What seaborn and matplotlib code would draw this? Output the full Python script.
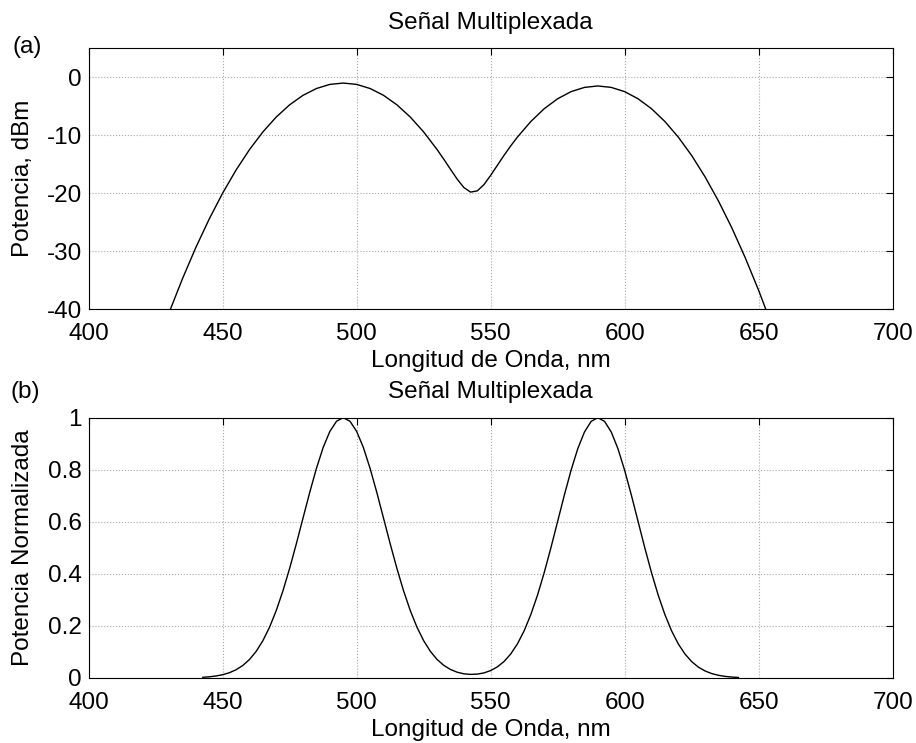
import numpy as np
import pandas as pd
import matplotlib
matplotlib.use("Agg")
import matplotlib.pyplot as plt
import seaborn as sns

# Wavelength (nm) and power (dBm)
wl_dbm = [425, 430, 435, 440, 445, 450, 455, 460, 465, 470, 475, 480, 485, 490,
          495, 500, 505, 510, 515, 520, 525, 530, 532.5, 535, 537.5, 540, 542.5,
          545, 547.5, 550, 552.5, 555, 557.5, 560, 565, 570, 575, 580, 585, 590,
          595, 600, 605, 610, 615, 620, 625, 630, 635, 640, 645, 650, 655, 660]
power_dbm = [-46.96, -40.63, -34.77, -29.37, -24.45, -19.99, -16.01, -12.49, -9.44,
             -6.86, -4.75, -3.11, -1.94, -1.23, -1.00, -1.23, -1.94, -3.11, -4.75,
             -6.86, -9.44, -12.47, -14.14, -15.87, -17.58, -19.03, -19.82, -19.61,
             -18.53, -16.93, -15.20, -13.47, -11.84, -10.32, -7.63, -5.42, -3.71,
             -2.48, -1.75, -1.50, -1.75, -2.48, -3.71, -5.42, -7.63, -10.32, -13.50,
             -17.18, -21.35, -26.00, -31.15, -36.78, -42.90, -49.52]

# Wavelength (nm) and normalized power
wl_norm = [442.5, 445, 447.5, 450, 452.5, 455, 457.5, 460, 462.5, 465, 467.5, 470,
           472.5, 475, 477.5, 480, 482.5, 485, 487.5, 490, 492.5, 495, 497.5, 500,
           502.5, 505, 507.5, 510, 512.5, 515, 517.5, 520, 522.5, 525, 527.5, 530,
           532.5, 535, 537.5, 540, 542.5, 545, 547.5, 550, 552.5, 555, 557.5, 560,
           562.5, 565, 567.5, 570, 572.5, 575, 577.5, 580, 582.5, 585, 587.5, 590,
           592.5, 595, 597.5, 600, 602.5, 605, 607.5, 610, 612.5, 615, 617.5, 620,
           622.5, 625, 627.5, 630, 632.5, 635, 637.5, 640, 642.5]
power_norm = [0.0026, 0.0045, 0.0077, 0.0126, 0.0202, 0.0316, 0.0480, 0.0709,
              0.1022, 0.1432, 0.1953, 0.2593, 0.3351, 0.4215, 0.5161, 0.6151,
              0.7136, 0.8057, 0.8856, 0.9474, 0.9866, 1.0000, 0.9866, 0.9474,
              0.8856, 0.8057, 0.7136, 0.6151, 0.5161, 0.4215, 0.3351, 0.2593,
              0.1953, 0.1433, 0.1024, 0.0712, 0.0486, 0.0327, 0.0222, 0.0161,
              0.0138, 0.0149, 0.0195, 0.0285, 0.0426, 0.0634, 0.0924, 0.1311,
              0.1814, 0.2440, 0.3189, 0.4054, 0.5009, 0.6018, 0.7028, 0.7979,
              0.8808, 0.9451, 0.9860, 1.0000, 0.9860, 0.9451, 0.8808, 0.7979,
              0.7028, 0.6018, 0.5009, 0.4054, 0.3189, 0.2440, 0.1814, 0.1311,
              0.0922, 0.0630, 0.0418, 0.0270, 0.0169, 0.0104, 0.0061, 0.0035,
              0.0020]

x_ticks = [400, 450, 500, 550, 600, 650, 700]
title = "Señal Multiplexada"
x_label = "Longitud de Onda, nm"

sns.set_style("white")
plt.rcParams["font.family"] = ["Liberation Sans", "DejaVu Sans"]
plt.rcParams["axes.unicode_minus"] = False
plt.rcParams["text.color"] = "black"
plt.rcParams["axes.labelcolor"] = "black"
plt.rcParams["xtick.color"] = "black"
plt.rcParams["ytick.color"] = "black"
FS = 17.5

fig = plt.figure(figsize=(9.16, 7.43), dpi=100)
ax_a = fig.add_axes([0.0968, 0.5841, 0.8777, 0.3509])
ax_b = fig.add_axes([0.0968, 0.0875, 0.8777, 0.3503])

df_a = pd.DataFrame({"wl": wl_dbm, "p": power_dbm})
df_b = pd.DataFrame({"wl": wl_norm, "p": power_norm})

sns.lineplot(data=df_a, x="wl", y="p", ax=ax_a, color="black", lw=1.0, sort=False)
sns.lineplot(data=df_b, x="wl", y="p", ax=ax_b, color="black", lw=1.0, sort=False)

ax_a.set_ylim(-40, 5)
ax_a.set_yticks([-40, -30, -20, -10, 0])
ax_a.set_ylabel("Potencia, dBm", fontsize=FS)
ax_b.set_ylim(0, 1)
ax_b.set_yticks([0, 0.2, 0.4, 0.6, 0.8, 1])
ax_b.set_yticklabels(["0", "0.2", "0.4", "0.6", "0.8", "1"])
ax_b.set_ylabel("Potencia Normalizada", fontsize=FS)

for ax in (ax_a, ax_b):
    ax.set_xlim(400, 700)
    ax.set_xticks(x_ticks)
    ax.set_title(title, fontsize=FS, pad=14)
    ax.set_xlabel(x_label, fontsize=FS, labelpad=4)
    ax.tick_params(direction="in", top=True, right=True, length=5, width=0.8,
                   labelsize=FS, color="black")
    ax.tick_params(axis="x", pad=10)
    ax.tick_params(axis="y", pad=5)
    ax.grid(True, linestyle=":", color="#a8a8a8", lw=0.8)
    for sp in ax.spines.values():
        sp.set_color("black")
        sp.set_linewidth(0.8)
    ax.yaxis.set_label_coords(-0.068, 0.5)

fig.text(0.014, 1 - 47 / 743, "(a)", fontsize=FS, va="center", ha="left")
fig.text(0.012, 1 - 392 / 743, "(b)", fontsize=FS, va="center", ha="left")

fig.savefig("out.png", dpi=100)
